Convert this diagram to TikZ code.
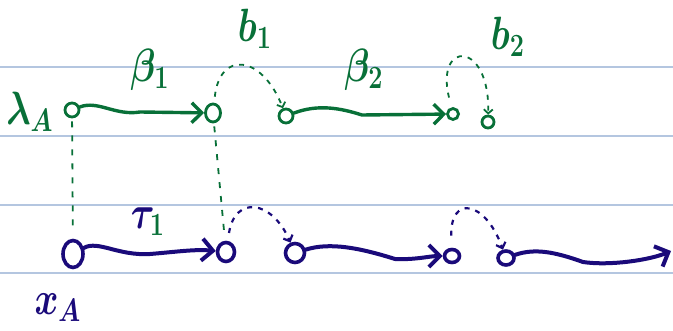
\documentclass[tikz,border=0pt]{standalone}
\usepackage{tikz}
\usetikzlibrary{arrows.meta,shapes.geometric}
\definecolor{inkgreen}{RGB}{8,112,56}
\definecolor{inknavy}{RGB}{26,10,122}
\definecolor{ruleblue}{RGB}{180,198,224}

\begin{document}
\begin{tikzpicture}[x=1pt,y=-1pt,line width=3pt,
  rule/.style={ruleblue,line width=1.3pt},
  gdot/.style={circle,draw=inkgreen,line width=2.8pt,inner sep=0pt,minimum size=14pt},
  ndot/.style={ellipse,draw=inknavy,line width=3.6pt,inner sep=0pt,minimum width=17pt,minimum height=19pt},
  gwave/.style={inkgreen,line width=3.4pt,line cap=round,-{Straight Barb[length=10pt,width=20pt]}},
  nwave/.style={inknavy,line width=4pt,line cap=round,-{Straight Barb[length=11pt,width=22pt]}},
  ghop/.style={inkgreen,line width=1.8pt,dash pattern=on 5pt off 6pt,-{Straight Barb[length=4pt,width=9pt]}},
  nhop/.style={inknavy,line width=2.2pt,dash pattern=on 5pt off 6pt,-{Straight Barb[length=5pt,width=10pt]}},
  gdash/.style={inkgreen,line width=1.8pt,dash pattern=on 6pt off 8pt},
  lbl/.style={font=\LARGE\boldmath,xscale=2.1,yscale=2.7,inner sep=0pt}]
\useasboundingbox (0,0) rectangle (673,331);
\foreach \y in {67,136,205,273}
  \draw[rule] (0,\y) -- (673,\y);

% top row
\node[gdot] (a0) at (72,110) {};
\node[gdot,minimum width=15pt,minimum height=18pt,ellipse] (a1) at (213,113) {};
\node[gdot] (a2) at (286,116) {};
\node[gdot,minimum size=11pt] (a3) at (453,114) {};
\node[gdot,minimum size=12pt] (a4) at (488,122) {};
\node[lbl,text=inkgreen] (lamA) at (30,112) {$\lambda_A$};
\node[lbl,text=inkgreen] (beta1) at (150,70) {$\beta_1$};
\node[lbl,text=inkgreen] (b1) at (255,29) {$b_1$};
\node[lbl,text=inkgreen] (beta2) at (364,70) {$\beta_2$};
\node[lbl,text=inkgreen] (b2) at (508,37) {$b_2$};

% bottom row
\node[ndot,minimum width=20pt,minimum height=27pt] (c0) at (73,254) {};
\node[ndot] (c1) at (226,252) {};
\node[ndot,minimum width=19pt] (c2) at (295,253) {};
\node[ndot,minimum width=15pt,minimum height=13pt] (c3) at (452,256) {};
\node[ndot,minimum width=16pt,minimum height=14pt] (c4) at (506,258) {};
\coordinate (cend) at (671,251);
\node[lbl,text=inknavy] (tau1) at (148,222) {$\tau_{\textcolor{inkgreen}{1}}$};
\node[lbl,text=inknavy] (xA) at (58,308) {$x_A$};

% waves
\draw[gwave] (a0) .. controls (98,100) and (115,116) .. (140,112) -- (a1);
\draw[gwave] (a2) .. controls (318,104) and (340,108) .. (362,115) -- (a3);
\draw[nwave] (c0) .. controls (98,240) and (118,256) .. (150,254) .. controls (175,252) and (195,249) .. (c1);
\draw[nwave] (c2) .. controls (330,242) and (360,248) .. (395,259) .. controls (415,260) and (430,256) .. (c3);
\draw[nwave] (c4) .. controls (535,248) and (555,252) .. (583,262) .. controls (610,266) and (650,260) .. (cend);

% hops
\draw[ghop,shorten <=6pt] (a1) .. controls (220,50) and (262,55) .. (a2);
\draw[ghop,shorten <=10pt] (a3) .. controls (435,40) and (490,40) .. (a4);
\draw[nhop,shorten <=8pt] (c1) .. controls (235,195) and (272,200) .. (c2);
\draw[nhop,shorten <=12pt] (c3) .. controls (450,195) and (485,200) .. (c4);

% drops
\draw[gdash,shorten <=3pt,shorten >=13pt] (a0) -- (c0);
\draw[gdash,shorten <=3pt,shorten >=8pt] (a1) -- (c1);
\end{tikzpicture}
\end{document}
